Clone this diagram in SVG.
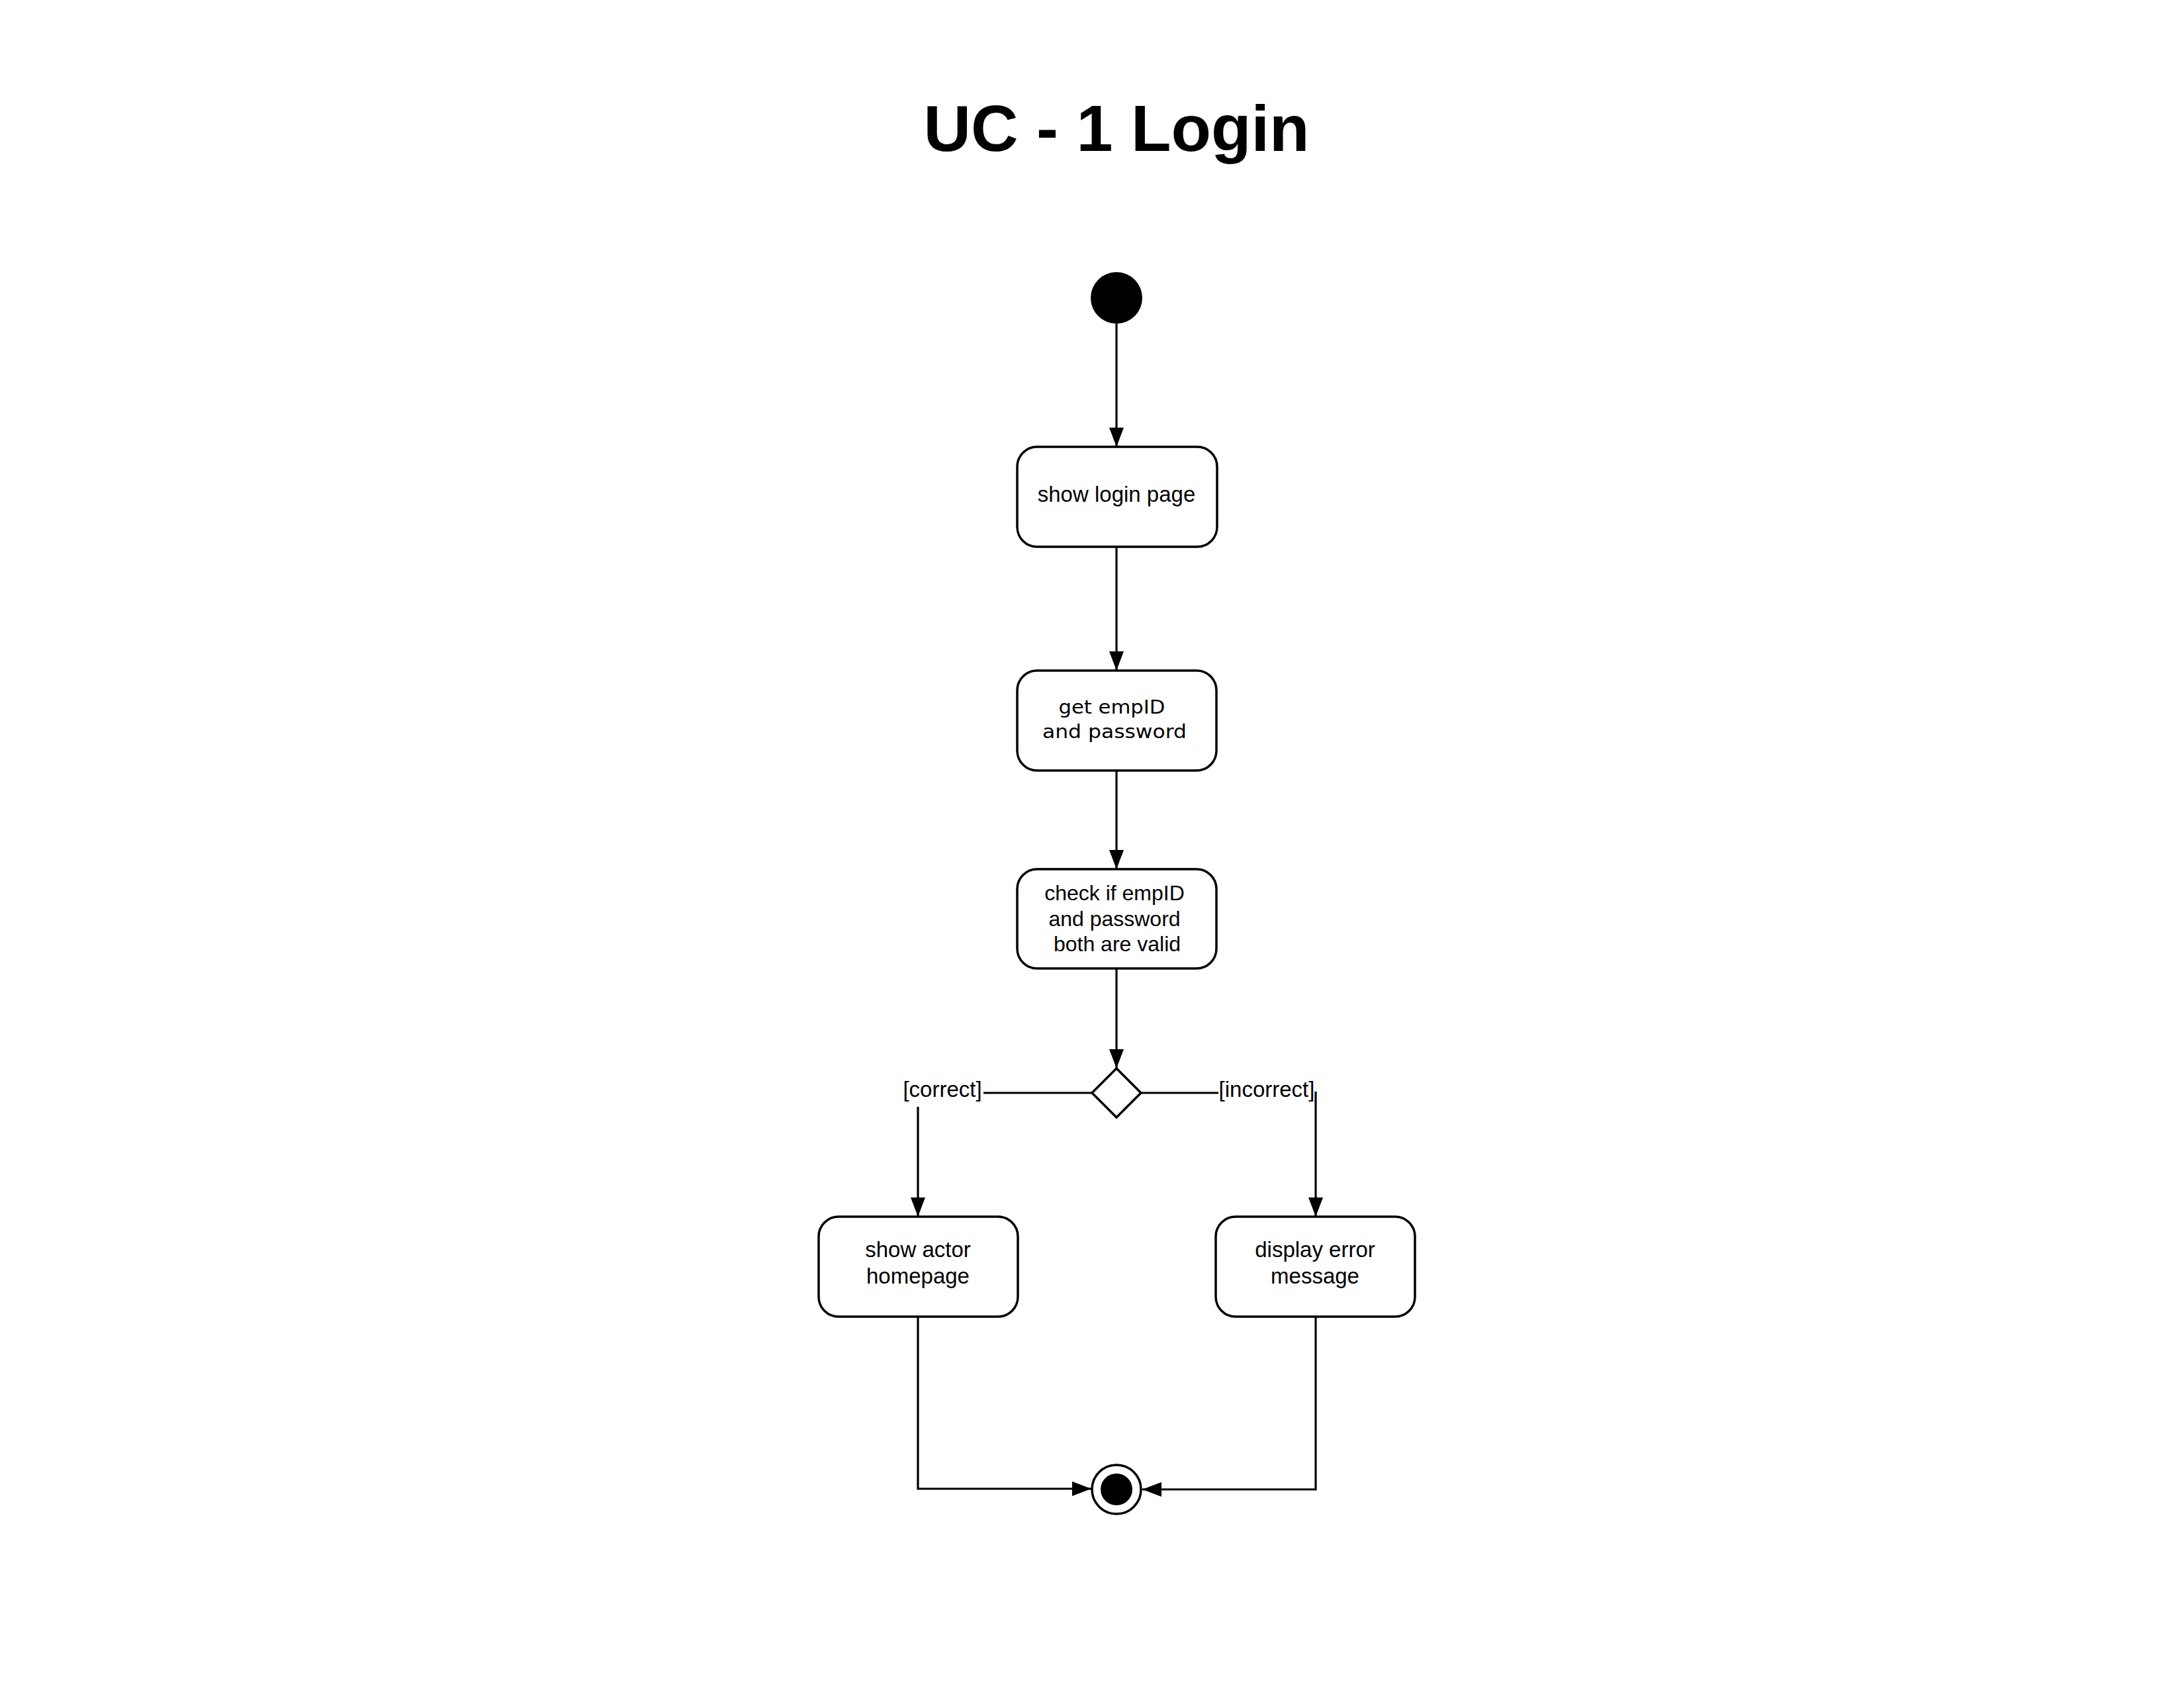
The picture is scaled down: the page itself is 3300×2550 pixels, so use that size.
<svg xmlns="http://www.w3.org/2000/svg" width="3300" height="2550" viewBox="0 0 3300 2550">
<style>
.box{fill:#fff;stroke:#000;stroke-width:3.5}
.t{font-family:"Liberation Sans",Arial,sans-serif;fill:#000;text-anchor:middle}
.tw{font-family:"DejaVu Sans","Liberation Sans",sans-serif;fill:#000;text-anchor:middle}
.c{fill:none;stroke:#000;stroke-width:3.2}
</style>
<defs>
<marker id="arr" viewBox="0 0 29 22" refX="29" refY="11" markerWidth="29" markerHeight="22" markerUnits="userSpaceOnUse" orient="auto">
<path d="M0,0 L29,11 L0,22 Z" fill="#000"/>
</marker>
</defs>
<rect width="3300" height="2550" fill="#fff"/>
<text class="t" x="1687" y="228" font-size="99" font-weight="bold">UC - 1 Login</text>
<g id="connectors">
<path class="c" d="M1687,489 V675" marker-end="url(#arr)"/>
<path class="c" d="M1687,826 V1013" marker-end="url(#arr)"/>
<path class="c" d="M1687,1164 V1313" marker-end="url(#arr)"/>
<path class="c" d="M1687,1463 V1614" marker-end="url(#arr)"/>
<path class="c" d="M1650,1651 H1486"/>
<path class="c" d="M1387,1672 V1838" marker-end="url(#arr)"/>
<path class="c" d="M1724,1651 H1841"/>
<path class="c" d="M1988,1649 V1838" marker-end="url(#arr)"/>
<path class="c" d="M1387,1989 V2249 H1649" marker-end="url(#arr)"/>
<path class="c" d="M1988,1989 V2250 H1726" marker-end="url(#arr)"/>
<text class="t" x="1424" y="1657" font-size="33">[correct]</text>
<text class="t" x="1914" y="1657" font-size="33">[incorrect]</text>
</g>
<g id="start">
<circle cx="1687" cy="450" r="39" fill="#000"/>
</g>
<g id="showLogin">
<rect class="box" x="1537" y="675" width="302" height="151" rx="30"/>
<text class="t" x="1687" y="758" font-size="33">show login page</text>
</g>
<g id="getEmp">
<rect class="box" x="1537" y="1013" width="301" height="151" rx="30"/>
<text class="tw" x="1680" y="1078" font-size="28" textLength="161" lengthAdjust="spacingAndGlyphs">get empID</text>
<text class="tw" x="1684" y="1115" font-size="28" textLength="218" lengthAdjust="spacingAndGlyphs">and password</text>
</g>
<g id="check">
<rect class="box" x="1537" y="1313" width="301" height="150" rx="30"/>
<text class="t" x="1684" y="1360" font-size="32">check if empID</text>
<text class="t" x="1684" y="1399" font-size="32">and password</text>
<text class="t" x="1688" y="1437" font-size="32">both are valid</text>
</g>
<g id="decision">
<polygon points="1687,1614 1724,1651 1687,1688 1650,1651" fill="#fff" stroke="#000" stroke-width="3.5"/>
</g>
<g id="homepage">
<rect class="box" x="1237" y="1838" width="301" height="151" rx="30"/>
<text class="t" x="1387" y="1899" font-size="33">show actor</text>
<text class="t" x="1387" y="1939" font-size="33">homepage</text>
</g>
<g id="error">
<rect class="box" x="1837" y="1838" width="301" height="151" rx="30"/>
<text class="t" x="1987" y="1899" font-size="33">display error</text>
<text class="t" x="1987" y="1939" font-size="33">message</text>
</g>
<g id="end">
<circle cx="1687" cy="2250" r="37" fill="#fff" stroke="#000" stroke-width="3.5"/>
<circle cx="1687" cy="2250" r="24" fill="#000"/>
</g>
</svg>
